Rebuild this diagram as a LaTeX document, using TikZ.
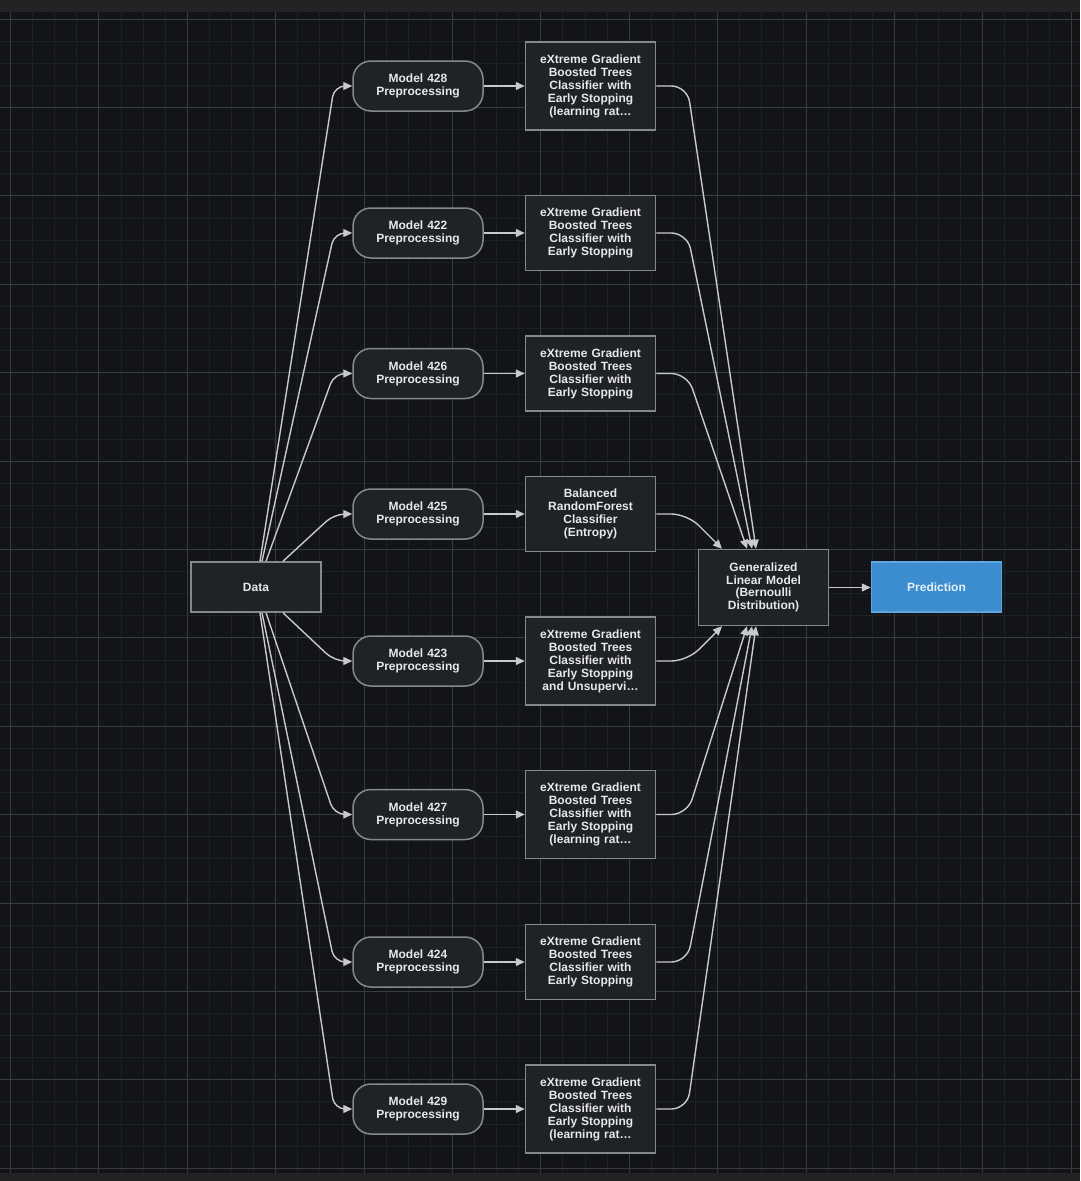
\documentclass[tikz,border=0pt]{standalone}
\usepackage{fontspec}
\setmainfont{Liberation Sans}
\usetikzlibrary{arrows.meta,calc}
\definecolor{bg}{HTML}{121418}
\definecolor{band}{HTML}{232325}
\definecolor{majorgrid}{HTML}{383C40}
\definecolor{minorgrid}{HTML}{1D2024}
\definecolor{nodefill}{HTML}{1F2226}
\definecolor{nodeborder}{HTML}{85898D}
\definecolor{edgecol}{HTML}{C8C9CA}
\definecolor{txt}{HTML}{E8E8E8}
\definecolor{predfill}{HTML}{3B8DCF}
\definecolor{predborder}{HTML}{5EA6DE}
\definecolor{predtxt}{HTML}{E6EEF7}
\tikzset{
  box/.style={draw=nodeborder, fill=nodefill, line width=1.5pt, minimum width=130pt,
    text width=124pt, align=center, inner sep=2pt,
    font=\fontsize{12}{13}\selectfont\bfseries, text=txt},
  prebox/.style={box, rounded corners=18pt, minimum height=50pt},
  fivebox/.style={box, minimum height=88pt},
  fourbox/.style={box, minimum height=75pt},
  conn/.style={draw=edgecol, line width=1.4pt, -{Triangle[length=9pt,width=8pt]}},
}
\begin{document}
\begin{tikzpicture}[x=1pt,y=-1pt]
\useasboundingbox (0,0) rectangle (1080,1181);
\fill[bg] (0,0) rectangle (1080,1181);
\fill[band] (0,0) rectangle (1080,12);
\fill[band] (0,1173) rectangle (1080,1181);
\begin{scope}
\clip (0,12) rectangle (1080,1173);
\foreach \i in {-1,...,12} {
  \foreach \s in {1,2,3} {
    \pgfmathsetmacro\xx{round(10+88.4*\i+22.1*\s)+0.5}
    \draw[minorgrid, line width=1pt] (\xx,12) -- (\xx,1173);
  }
}
\foreach \i in {-7,...,7} {
  \foreach \s in {1,2,3} {
    \pgfmathsetmacro\yy{round(549+88.4*\i+22.1*\s)+0.5}
    \draw[minorgrid, line width=1pt] (0,\yy) -- (1080,\yy);
  }
}
\foreach \i in {0,...,12} {
  \pgfmathsetmacro\xx{round(10+88.4*\i)+0.5}
  \draw[majorgrid, line width=1pt] (\xx,12) -- (\xx,1173);
}
\foreach \i in {-6,...,7} {
  \pgfmathsetmacro\yy{round(549+88.4*\i)+0.5}
  \draw[majorgrid, line width=1pt] (0,\yy) -- (1080,\yy);
}
\end{scope}

% nodes
\node[box, minimum height=50pt] (data) at (256,587) {Data};

\node[prebox] (p428) at (418,86) {Model 428\\Preprocessing};
\node[prebox] (p422) at (418,233) {Model 422\\Preprocessing};
\node[prebox] (p426) at (418,373.5) {Model 426\\Preprocessing};
\node[prebox] (p425) at (418,514) {Model 425\\Preprocessing};
\node[prebox] (p423) at (418,661) {Model 423\\Preprocessing};
\node[prebox] (p427) at (418,814.5) {Model 427\\Preprocessing};
\node[prebox] (p424) at (418,962) {Model 424\\Preprocessing};
\node[prebox] (p429) at (418,1109) {Model 429\\Preprocessing};

\node[fivebox] (b428) at (590.5,86) {eXtreme Gradient\\Boosted Trees\\Classifier with\\Early Stopping\\(learning rat…};
\node[fourbox] (b422) at (590.5,233) {eXtreme Gradient\\Boosted Trees\\Classifier with\\Early Stopping};
\node[fourbox] (b426) at (590.5,373.5) {eXtreme Gradient\\Boosted Trees\\Classifier with\\Early Stopping};
\node[fourbox] (b425) at (590.5,514) {Balanced\\RandomForest\\Classifier\\(Entropy)};
\node[fivebox] (b423) at (590.5,661) {eXtreme Gradient\\Boosted Trees\\Classifier with\\Early Stopping\\and Unsupervi…};
\node[fivebox] (b427) at (590.5,814.5) {eXtreme Gradient\\Boosted Trees\\Classifier with\\Early Stopping\\(learning rat…};
\node[fourbox] (b424) at (590.5,962) {eXtreme Gradient\\Boosted Trees\\Classifier with\\Early Stopping};
\node[fivebox] (b429) at (590.5,1109) {eXtreme Gradient\\Boosted Trees\\Classifier with\\Early Stopping\\(learning rat…};

\node[box, minimum height=76pt, font=\fontsize{12}{12.7}\selectfont\bfseries] (glm) at (763.5,587.5) {Generalized\\Linear Model\\(Bernoulli\\Distribution)};
\node[box, fill=predfill, draw=predborder, text=predtxt, minimum height=50pt] (pred) at (936.5,587) {Prediction};

% Data -> preprocessing
\foreach \n/\dx in {428/4, 422/6, 426/10, 425/27} {
  \draw[conn, rounded corners=11pt] ([xshift=\dx pt]data.north) -- ([xshift=-18pt]p\n.west) -- (p\n.west);
}
\foreach \n/\dx in {429/4, 424/6, 427/10, 423/27} {
  \draw[conn, rounded corners=11pt] ([xshift=\dx pt]data.south) -- ([xshift=-18pt]p\n.west) -- (p\n.west);
}
% preprocessing -> model
\foreach \n in {428,422,426,425,423,427,424,429} {
  \draw[conn] (p\n.east) -- (p\n.east -| b\n.west);
}
% model -> GLM
\foreach \n/\dx in {428/-7.5, 422/-11.5, 426/-16.5, 425/-41.5} {
  \draw[conn, rounded corners=16pt] (b\n.east) -- ([xshift=31pt]b\n.east) -- ([xshift=\dx pt]glm.north);
}
\foreach \n/\dx in {429/-7.5, 424/-11.5, 427/-16.5, 423/-41.5} {
  \draw[conn, rounded corners=16pt] (b\n.east) -- ([xshift=31pt]b\n.east) -- ([xshift=\dx pt]glm.south);
}
% GLM -> Prediction
\draw[conn] (glm.east) -- (glm.east -| pred.west);
\end{tikzpicture}
\end{document}
